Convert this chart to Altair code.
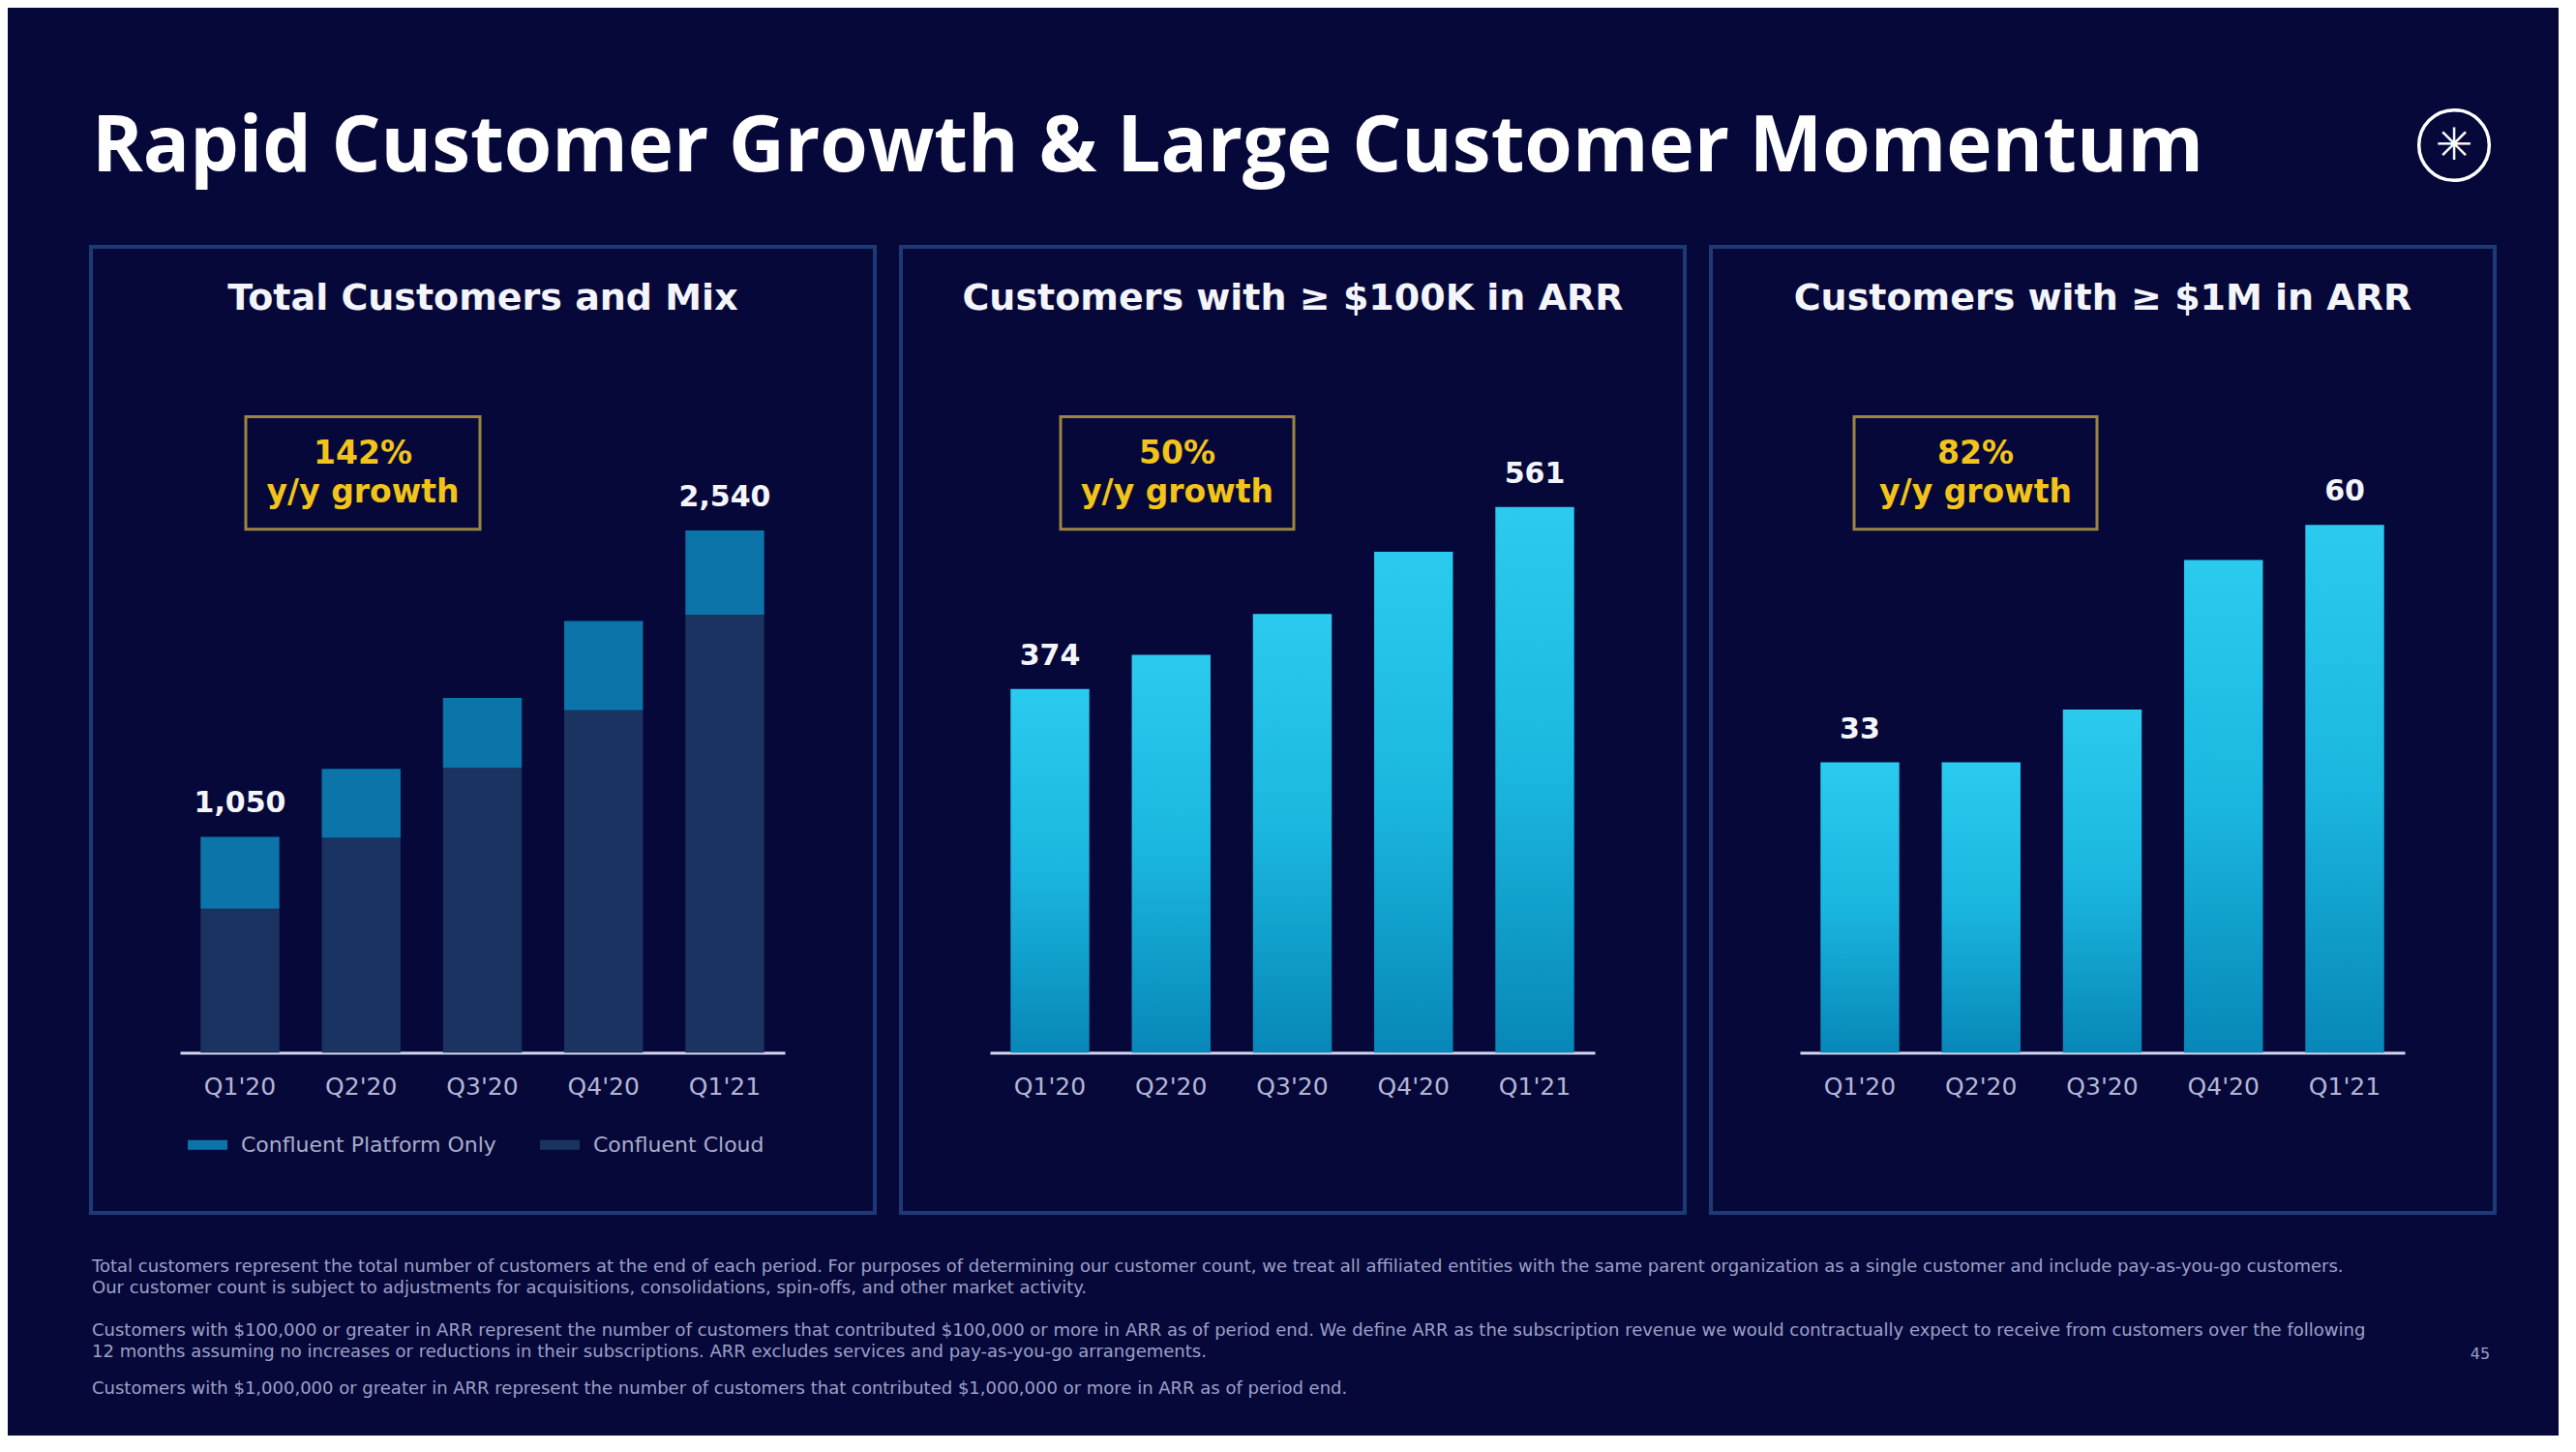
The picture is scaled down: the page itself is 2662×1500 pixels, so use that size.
import altair as alt
import pandas as pd

# ---------------- data ----------------
quarters = ["Q1'20", "Q2'20", "Q3'20", "Q4'20", "Q1'21"]
segments = ["Confluent Platform Only", "Confluent Cloud"]
cloud_customers = [700, 1045, 1385, 1665, 2130]
platform_only_customers = [350, 335, 340, 435, 410]
arr_100k_customers = [374, 409, 451, 515, 561]
arr_1m_customers = [33, 33, 39, 56, 60]
panel_titles = ["Total Customers and Mix", "Customers with \u2265 $100K in ARR", "Customers with \u2265 $1M in ARR"]
growth_pcts = ["142%", "50%", "82%"]
growth_caption = "y/y growth"
main_title = "Rapid Customer Growth & Large Customer Momentum"
footnotes = [
    "Total customers represent the total number of customers at the end of each period. For purposes of determining our customer count, we treat all affiliated entities with the same parent organization as a single customer and include pay-as-you-go customers.",
    "Our customer count is subject to adjustments for acquisitions, consolidations, spin-offs, and other market activity.",
    "Customers with $100,000 or greater in ARR represent the number of customers that contributed $100,000 or more in ARR as of period end. We define ARR as the subscription revenue we would contractually expect to receive from customers over the following",
    "12 months assuming no increases or reductions in their subscriptions. ARR excludes services and pay-as-you-go arrangements.",
    "Customers with $1,000,000 or greater in ARR represent the number of customers that contributed $1,000,000 or more in ARR as of period end.",
]
page_number = "45"

# ---------------- style ----------------
BG = "#06083a"
BORDER = "#1d3a76"
PLATFORM_C = "#0b74a8"
CLOUD_C = "#1b3361"
GOLD = "#f2c41a"
GOLD_BOX = "#9a8640"
AXIS_LINE = "#d0d3ec"
AXIS_LABEL = "#b3b6d4"
WHITE = "#f4f5fb"
NOTE_C = "#9da0c6"
FONT = "DejaVu Sans"

PW, PH = 810, 998
BASE = 832.4
X_RANGE = [92, 717]
FULL_W = 2550

grad = alt.Gradient(
    gradient="linear",
    stops=[alt.GradientStop(color="#2acbee", offset=0),
           alt.GradientStop(color="#1ab6df", offset=0.5),
           alt.GradientStop(color="#0787b8", offset=1)],
    x1=0, x2=0, y1=0, y2=1,
)

X_AXIS = alt.Axis(title="", orient="bottom", offset=-(PH - BASE), domainColor=AXIS_LINE,
                  domainWidth=3, ticks=False, grid=False, labelFont=FONT, labelFontSize=25,
                  labelColor=AXIS_LABEL, labelPadding=35, labelBaseline="middle", labelAngle=0)


def x_enc():
    scale = alt.Scale(domain=quarters, range=X_RANGE, paddingInner=0.35, paddingOuter=0.17)
    return alt.X("quarter:N", sort=quarters, scale=scale, axis=X_AXIS)


def y_scale(vmax, top):
    return alt.Scale(domain=[0, vmax], range=[BASE, top], nice=False, zero=True)


def decorations(idx, box_x, box_x2):
    one = pd.DataFrame({"title": [panel_titles[idx]], "pct": [growth_pcts[idx]], "cap": [growth_caption]})
    base = alt.Chart(one)
    title = base.mark_text(font=FONT, fontWeight="bold", fontSize=38, color=WHITE,
                           align="center", baseline="middle").encode(
        x=alt.value(PW / 2), y=alt.value(54), text="title:N")
    box = base.mark_rect(fill="transparent", stroke=GOLD_BOX, strokeWidth=3).encode(
        x=alt.value(box_x), x2=alt.value(box_x2), y=alt.value(175.5), y2=alt.value(291.8))
    cx = (box_x + box_x2) / 2
    pct = base.mark_text(font=FONT, fontWeight="bold", fontSize=33, color=GOLD,
                         align="center", baseline="middle").encode(
        x=alt.value(cx), y=alt.value(213.6), text="pct:N")
    cap = base.mark_text(font=FONT, fontWeight="bold", fontSize=33, color=GOLD,
                         align="center", baseline="middle").encode(
        x=alt.value(cx), y=alt.value(254.3), text="cap:N")
    return [title, box, pct, cap]


def end_labels(df, yscale):
    return alt.Chart(df).transform_filter(
        alt.FieldOneOfPredicate(field="quarter", oneOf=[quarters[0], quarters[-1]])
    ).mark_text(font=FONT, fontWeight="bold", fontSize=30, color=WHITE,
                align="center", baseline="middle", dy=-34).encode(
        x=x_enc(),
        y=alt.Y("total:Q", scale=yscale, axis=None),
        text=alt.Text("total:Q", format=","),
    )


panel_view = alt.ViewBackground(stroke=BORDER, strokeWidth=4)

# ---------- panel 1: stacked ----------
rows = []
for q, c, p in zip(quarters, cloud_customers, platform_only_customers):
    rows.append({"quarter": q, "segment": segments[1], "value": c, "ord": 0})
    rows.append({"quarter": q, "segment": segments[0], "value": p, "ord": 1})
stack_df = pd.DataFrame(rows)
tot_df = pd.DataFrame({"quarter": quarters,
                       "total": [c + p for c, p in zip(cloud_customers, platform_only_customers)]})
ys1 = y_scale(2540, 293)
bars1 = alt.Chart(stack_df).mark_bar().encode(
    x=x_enc(),
    y=alt.Y("value:Q", stack="zero", scale=ys1, axis=None),
    color=alt.Color("segment:N", scale=alt.Scale(domain=segments, range=[PLATFORM_C, CLOUD_C]),
                    legend=alt.Legend(orient="none", legendX=100, legendY=907, direction="horizontal",
                                      title=None, padding=0,
                                      symbolType="M-1,-0.24H1V0.24H-1Z", symbolSize=1681,
                                      symbolStrokeWidth=0, symbolOpacity=1,
                                      labelFont=FONT, labelFontSize=22, labelColor="#a9acc9",
                                      labelLimit=0, labelOffset=14, columnPadding=45)),
    order=alt.Order("ord:Q"),
)
panel1 = alt.layer(bars1, end_labels(tot_df, ys1), *decorations(0, 160, 402)).properties(
    width=PW, height=PH, view=panel_view)

# ---------- panel 2 ----------
df2 = pd.DataFrame({"quarter": quarters, "total": arr_100k_customers})
ys2 = y_scale(561, 268.8)
bars2 = alt.Chart(df2).mark_bar(color=grad).encode(
    x=x_enc(), y=alt.Y("total:Q", scale=ys2, axis=None))
panel2 = alt.layer(bars2, end_labels(df2, ys2), *decorations(1, 165, 406)).properties(
    width=PW, height=PH, view=panel_view)

# ---------- panel 3 ----------
df3 = pd.DataFrame({"quarter": quarters, "total": arr_1m_customers})
ys3 = y_scale(60, 287.2)
bars3 = alt.Chart(df3).mark_bar(color=grad).encode(
    x=x_enc(), y=alt.Y("total:Q", scale=ys3, axis=None))
panel3 = alt.layer(bars3, end_labels(df3, ys3), *decorations(2, 148, 399)).properties(
    width=PW, height=PH, view=panel_view)

# ---------- header ----------
hdr = pd.DataFrame({"t": [main_title]})
title = alt.Chart(hdr).mark_text(font="Open Sans", fontWeight="bold", fontSize=80, color="#ffffff",
                                 align="left", baseline="alphabetic").encode(
    x=alt.value(1), y=alt.value(169), text="t:N")
logo_ring = alt.Chart(hdr).mark_point(shape="circle", size=5281, filled=False, stroke="#ffffff",
                                      strokeWidth=3.5, opacity=1).encode(
    x=alt.value(2442), y=alt.value(142))
logo_star = alt.Chart(hdr).mark_text(text="\u2733", font=FONT, fontSize=46, color="#ffffff",
                                     align="center", baseline="middle").encode(
    x=alt.value(2442), y=alt.value(143))
header = alt.layer(title, logo_ring, logo_star).properties(
    width=FULL_W, height=245, view=alt.ViewBackground(stroke="transparent"))

# ---------- footer ----------
note_df = pd.DataFrame({"line": footnotes})
note_y = [54, 76, 120, 142, 180]
note_layers = []
for i, yv in enumerate(note_y):
    note_layers.append(
        alt.Chart(note_df).transform_filter(alt.datum.line == footnotes[i]).mark_text(
            font=FONT, fontSize=18, color=NOTE_C, align="left", baseline="middle").encode(
            x=alt.value(1), y=alt.value(yv), text="line:N"))
pg = alt.Chart(pd.DataFrame({"pg": [page_number]})).mark_text(
    font=FONT, fontSize=16, color=NOTE_C, align="center", baseline="middle").encode(
    x=alt.value(2469), y=alt.value(144), text="pg:N")
footer = alt.layer(*note_layers, pg).properties(
    width=FULL_W, height=228, view=alt.ViewBackground(stroke="transparent"))

panels = alt.hconcat(panel1, panel2, panel3, spacing=23).resolve_scale(
    color="independent").resolve_legend(color="independent")

chart = alt.vconcat(header, panels, footer, spacing=0).resolve_scale(
    color="independent").resolve_legend(color="independent").properties(
    padding={"left": 84, "top": 0, "right": 0, "bottom": 0},
    background=BG,
).configure_view(strokeWidth=0)

chart.save("out.html", embed_options={"renderer": "svg", "actions": False})
